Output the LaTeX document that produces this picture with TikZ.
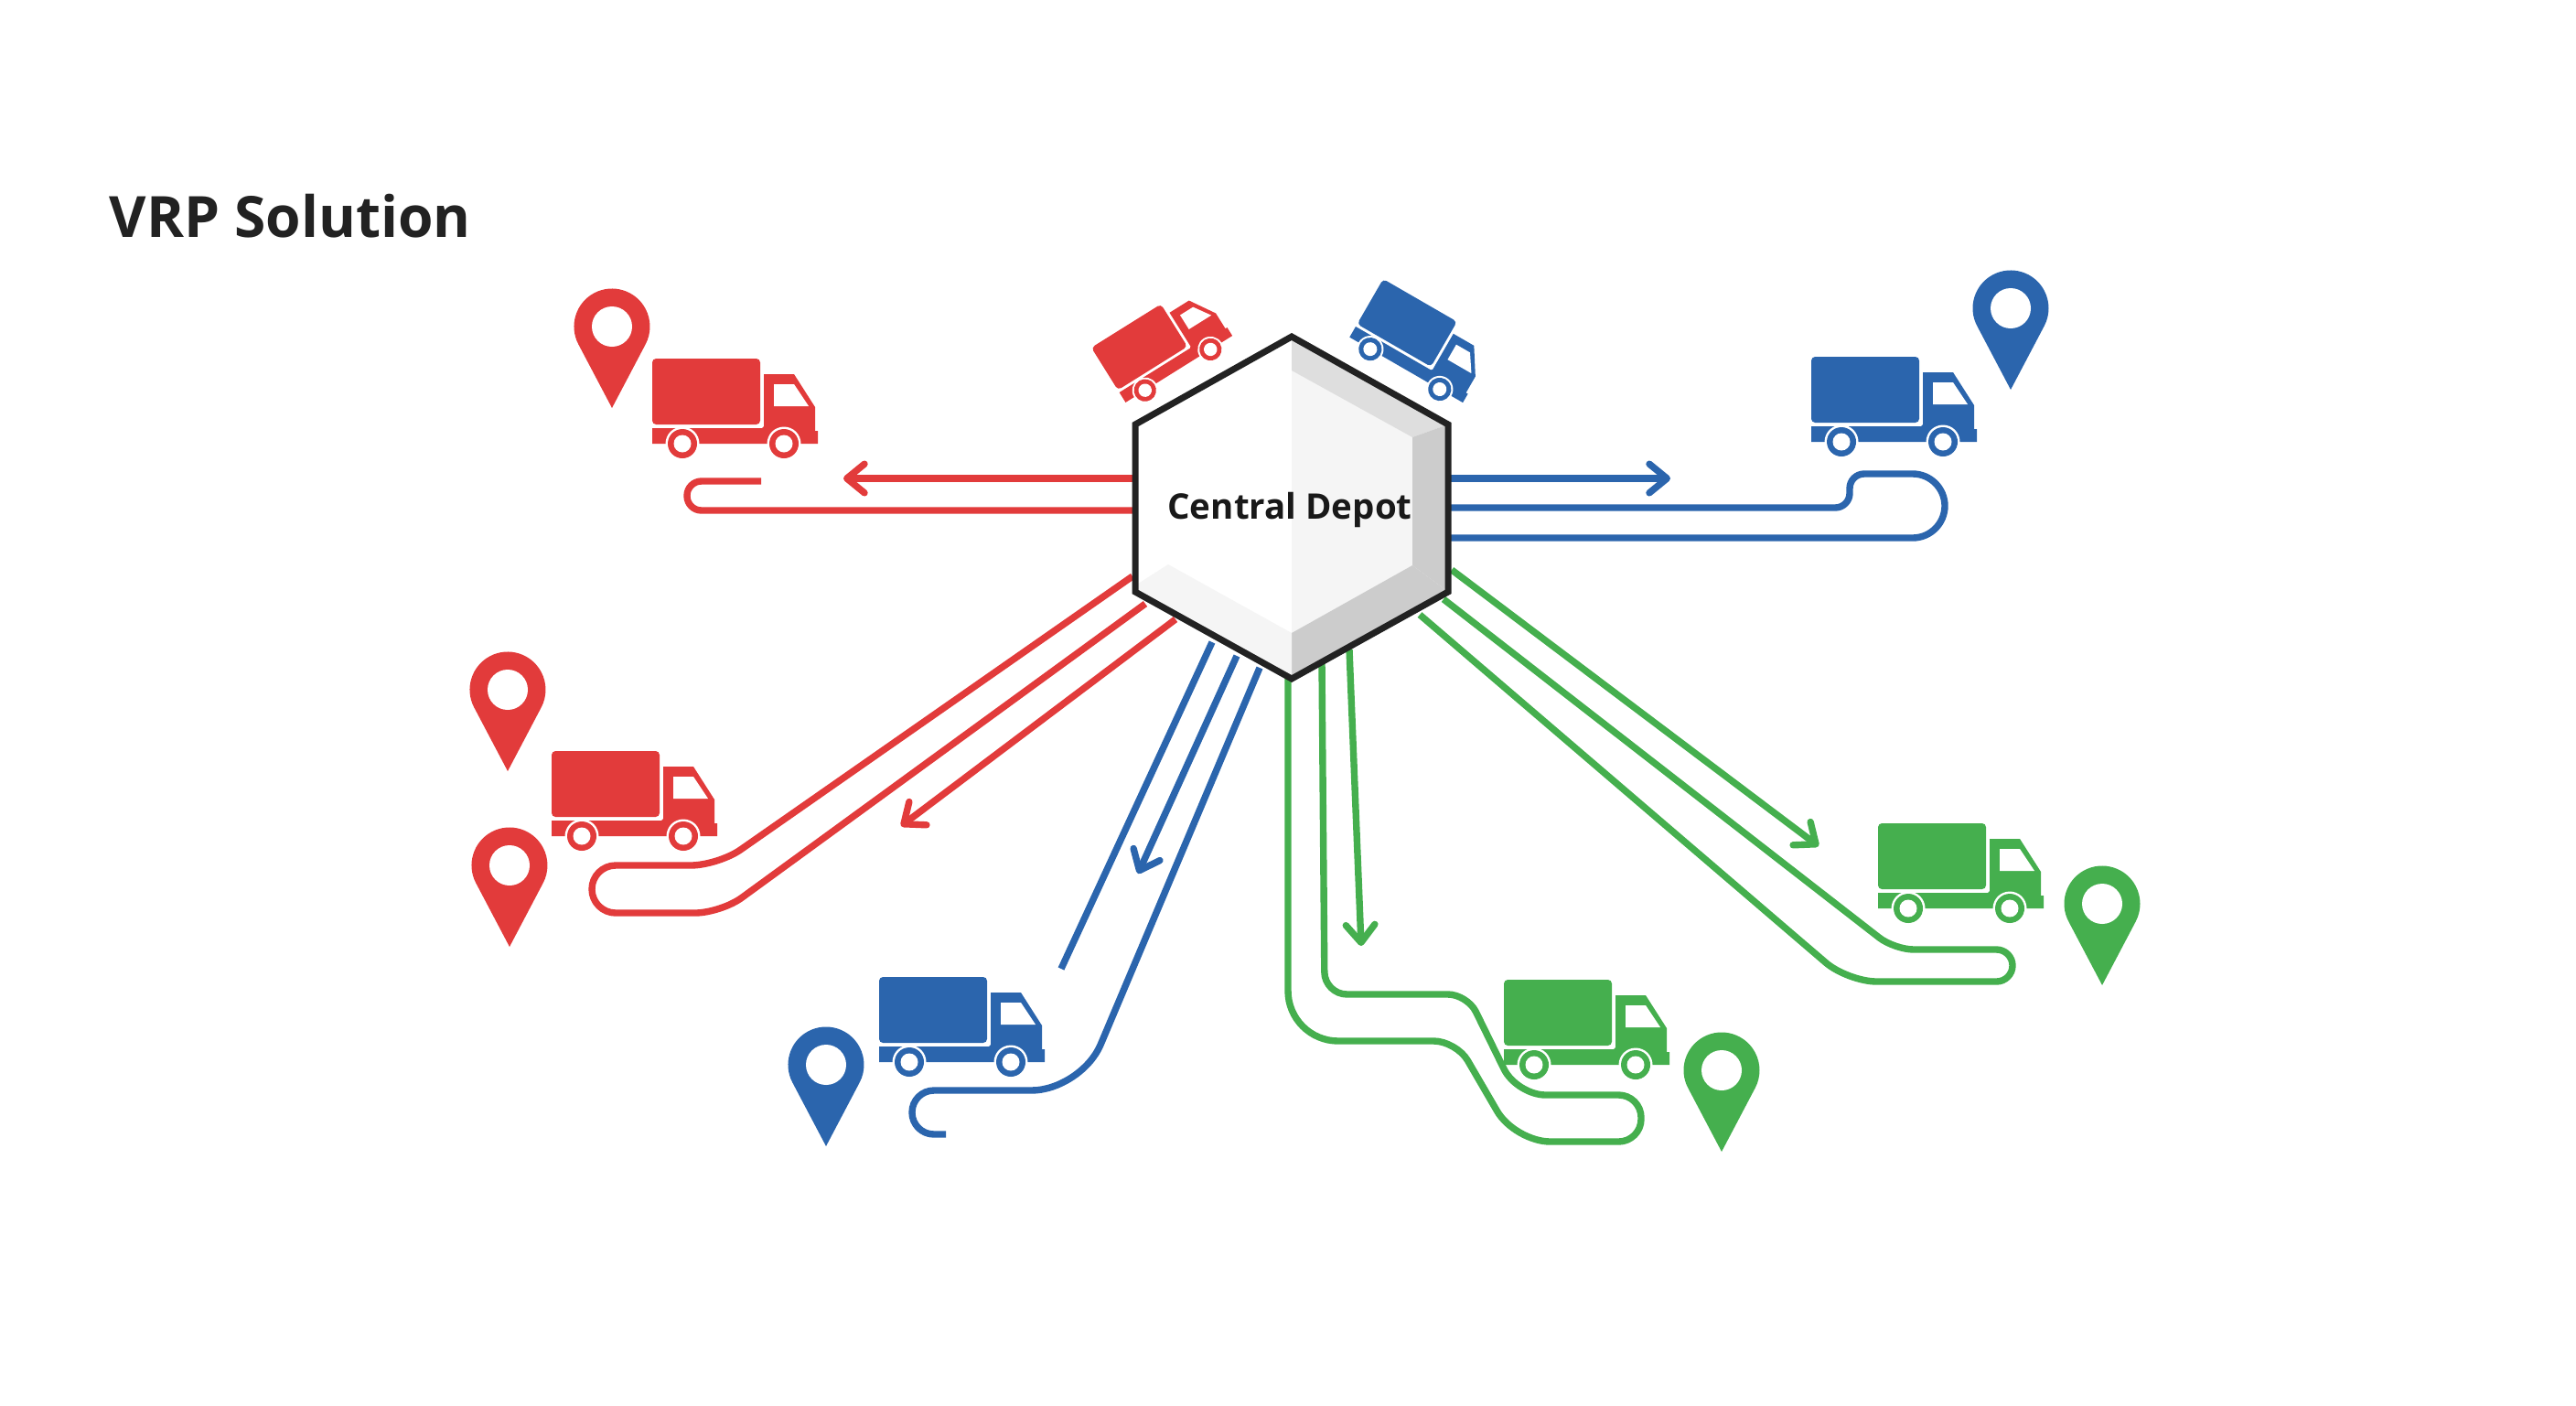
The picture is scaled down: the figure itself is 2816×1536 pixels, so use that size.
\documentclass[tikz,border=0pt]{standalone}
\usepackage{fontspec}
\setmainfont{Open Sans}
\usetikzlibrary{arrows.meta}

\definecolor{routeRed}{HTML}{E23B3B}
\definecolor{routeBlue}{HTML}{2B65AD}
\definecolor{routeGreen}{HTML}{45AF4E}
\definecolor{inkDark}{HTML}{222222}

\tikzset{
  truckIcon/.pic={
    \fill[#1, rounded corners=1.2pt] (0,0) rectangle (118,72);
    \fill[#1, line join=round] (122,17) -- (155,17) -- (178,53) -- (178,79) -- (181,79) -- (181,93) -- (0,93) -- (0,76) -- (120,76) -- (122,74) -- cycle;
    \fill[white] (133,28) -- (155,28) -- (171,52) -- (133,52) -- cycle;
    \foreach \wheelX in {33,144} {
      \fill[white] (\wheelX,93) circle (18.5);
      \fill[#1] (\wheelX,93) circle (16);
      \fill[white] (\wheelX,93) circle (9.5);
    }
  },
  pinIcon/.pic={
    \fill[#1] (0,89) -- (-36.7,19.4) arc[start angle=152.1, end angle=387.9, radius=41.5] -- cycle;
    \fill[white] (0,0) circle (22);
  }
}

\begin{document}
\begin{tikzpicture}[x=0.01cm, y=-0.01cm, >={Straight Barb[length=5.5pt,width=9pt,round]}]
  \tikzstyle{route} = [line width=2.1pt, line join=round];
  \tikzstyle{redRoute} = [route, routeRed];
  \tikzstyle{blueRoute} = [route, routeBlue];
  \tikzstyle{greenRoute} = [route, routeGreen];
  \tikzstyle{depotLabel} = [anchor=base, inner sep=0pt, text=black!90, font={\fontsize{10.95}{13}\selectfont\bfseries}];
  \tikzstyle{titleLabel} = [anchor=base west, inner sep=0pt, text=inkDark, font={\fontsize{17.7}{21}\selectfont\bfseries}];

  \useasboundingbox (0,0) rectangle (2816,1536);
  \node[titleLabel] (title) at (119,259) {VRP Solution};

  % ends of the routes on the depot
  \coordinate (redOutA) at (1245,523);
  \coordinate (redOutB) at (1245,558);
  \coordinate (redOutC) at (1238,630);
  \coordinate (redOutD) at (1252,660);
  \coordinate (redOutE) at (1285,677);
  \coordinate (blueOutA) at (1580,523);
  \coordinate (blueOutB) at (1580,555);
  \coordinate (blueOutC) at (1580,588);
  \coordinate (blueOutD) at (1325,702);
  \coordinate (blueOutE) at (1352,717);
  \coordinate (blueOutF) at (1377,730);
  \coordinate (greenOutA) at (1408,740);
  \coordinate (greenOutB) at (1445,725);
  \coordinate (greenOutC) at (1475,710);
  \coordinate (greenOutD) at (1587,623);
  \coordinate (greenOutE) at (1578,655);
  \coordinate (greenOutF) at (1552,672);

  % free ends
  \coordinate (redEndA) at (922,523);
  \coordinate (redEndB) at (832,526);
  \coordinate (redEndC) at (985,903);
  \coordinate (blueEndA) at (1826,523);
  \coordinate (blueEndB) at (1160,1059);
  \coordinate (blueEndC) at (1244,955);
  \coordinate (blueEndD) at (1034,1240);
  \coordinate (greenEndA) at (1488,1034);
  \coordinate (greenEndB) at (1988,925);

  \draw[redRoute,->] (redOutA) -- (redEndA);
  \draw[redRoute, rounded corners=4.5pt] (redOutB) -- (751,558) -- (751,526) -- (redEndB);
  \draw[redRoute] (redOutC) [rounded corners=8.5pt] -- (785,946) [rounded corners=7.4pt] -- (647,946) -- (647,998) [rounded corners=8pt] -- (788,998) -- (redOutD);
  \draw[redRoute,->] (redOutE) -- (redEndC);

  \draw[blueRoute,->] (blueOutA) -- (blueEndA);
  \draw[blueRoute] (blueOutB) [rounded corners=4.5pt] -- (2022,555) -- (2022,518) [rounded corners=10pt] -- (2126,518) -- (2126,588) -- (blueOutC);
  \draw[blueRoute] (blueOutD) -- (blueEndB);
  \draw[blueRoute,->] (blueOutE) -- (blueEndC);
  \draw[blueRoute] (blueOutF) [rounded corners=15.5pt] -- (1182,1192) [rounded corners=6.8pt] -- (997,1192) -- (997,1240) -- (blueEndD);

  \draw[greenRoute] (greenOutA) [rounded corners=15.6pt] -- (1408,1138) [rounded corners=7pt] -- (1592,1138) [rounded corners=11pt] -- (1656,1248) [rounded corners=7pt] -- (1794,1248) -- (1794,1197) [rounded corners=9pt] -- (1658,1197) [rounded corners=6pt] -- (1604,1087) [rounded corners=7pt] -- (1448,1087) -- (greenOutB);
  \draw[greenRoute,->] (greenOutC) -- (greenEndA);
  \draw[greenRoute,->] (greenOutD) -- (greenEndB);
  \draw[greenRoute] (greenOutE) [rounded corners=6pt] -- (2071,1038) [rounded corners=5pt] -- (2200,1038) -- (2200,1073) [rounded corners=9pt] -- (2020,1073) -- (greenOutF);

  % depot hexagon with its bevels
  \fill[white] (1412,368) -- (1583,464) -- (1583,647) -- (1412,742) -- (1241,647) -- (1241,464) -- cycle;
  \fill[black!4] (1412,405) -- (1544,478) -- (1544,618) -- (1412,692) -- cycle;
  \fill[black!13] (1412,368) -- (1583,464) -- (1544,478) -- (1412,405) -- cycle;
  \fill[black!20] (1583,464) -- (1583,647) -- (1544,618) -- (1544,478) -- cycle;
  \fill[black!20] (1544,618) -- (1583,647) -- (1412,742) -- (1412,692) -- cycle;
  \fill[black!4] (1241,640) -- (1277,617) -- (1412,692) -- (1412,742) -- (1241,647) -- cycle;
  \draw[line width=2pt, inkDark, line join=miter] (1412,368) -- (1583,464) -- (1583,647) -- (1412,742) -- (1241,647) -- (1241,464) -- cycle;
  \node[depotLabel] (depot) at (1410,567) {Central Depot};

  \pic (truckRedA) at (713,392) {truckIcon=routeRed};
  \pic (truckRedB) at (603,821) {truckIcon=routeRed};
  \pic[rotate=32, scale=0.76] (truckRedC) at (1193,380) {truckIcon=routeRed};
  \pic (truckBlueA) at (1980,390) {truckIcon=routeBlue};
  \pic (truckBlueB) at (961,1068) {truckIcon=routeBlue};
  \pic[rotate=-30, scale=0.79] (truckBlueC) at (1512,305) {truckIcon=routeBlue};
  \pic (truckGreenA) at (1644,1071) {truckIcon=routeGreen};
  \pic (truckGreenB) at (2053,900) {truckIcon=routeGreen};

  \pic (pinRedA) at (669,357) {pinIcon=routeRed};
  \pic (pinRedB) at (555,754) {pinIcon=routeRed};
  \pic (pinRedC) at (557,946) {pinIcon=routeRed};
  \pic (pinBlueA) at (2198,337) {pinIcon=routeBlue};
  \pic (pinBlueB) at (903,1164) {pinIcon=routeBlue};
  \pic (pinGreenA) at (1882,1170) {pinIcon=routeGreen};
  \pic (pinGreenB) at (2298,988) {pinIcon=routeGreen};
\end{tikzpicture}
\end{document}
